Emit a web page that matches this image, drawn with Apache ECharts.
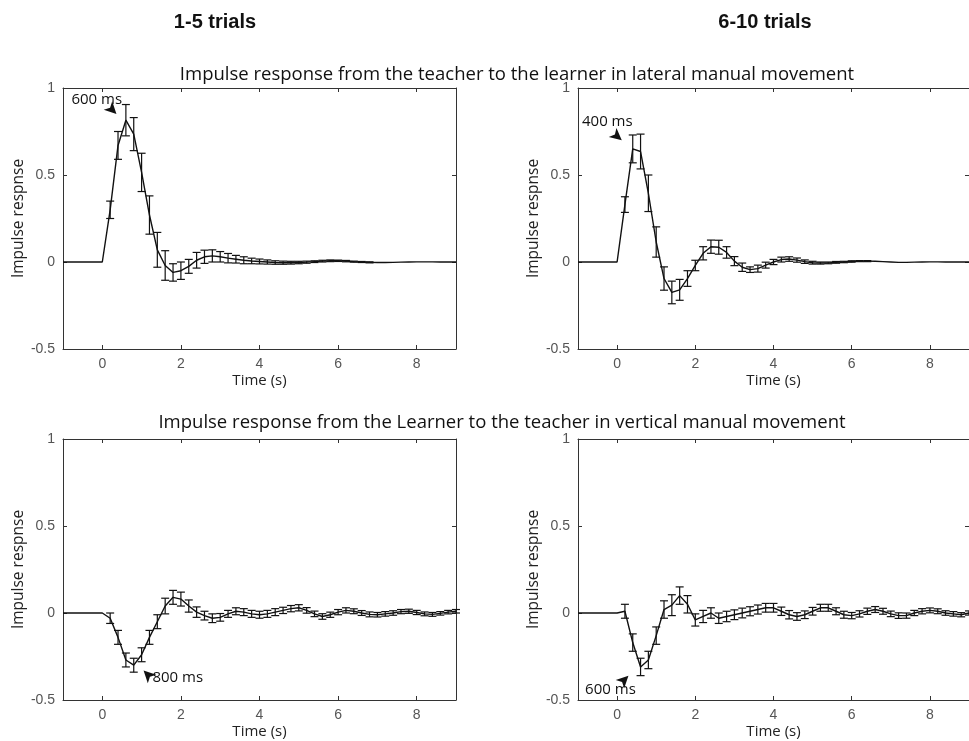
<!DOCTYPE html>
<html>
<head>
<meta charset="utf-8">
<script src="https://cdn.jsdelivr.net/npm/echarts@6/dist/echarts.min.js"></script>
<style>
  html, body { margin: 0; padding: 0; background: #fff; }
  #main { width: 969px; height: 741px; }
</style>
</head>
<body>
<div id="main"></div>
<script>
// time points (s); first point is the left edge of the axis
const times = [-1, 0, 0.2, 0.4, 0.6, 0.8, 1.0, 1.2, 1.4, 1.6, 1.8, 2.0, 2.2, 2.4, 2.6, 2.8, 3.0,
    3.2, 3.4, 3.6, 3.8, 4.0, 4.2, 4.4, 4.6, 4.8, 5.0, 5.2, 5.4, 5.6, 5.8, 6.0, 6.2, 6.4, 6.6,
    6.8, 7.0, 7.2, 7.4, 7.6, 7.8, 8.0, 8.2, 8.4, 8.6, 8.8, 9.0];

// teacher -> learner, lateral, trials 1-5
const meanTL = [0, 0, 0.30, 0.67, 0.815, 0.735, 0.515, 0.27, 0.07, -0.02, -0.06, -0.05, -0.025, 0.01,
    0.03, 0.035, 0.03, 0.022, 0.016, 0.01, 0.006, 0.003, 0.0, -0.003, -0.004, -0.004, -0.003, -0.001,
    0.002, 0.005, 0.007, 0.007, 0.005, 0.002, 0.0, -0.002, -0.003, -0.003, -0.002, -0.001, 0.0,
    0.001, 0.001, 0.001, 0.0, 0.0, 0.0];
const errTL = [0, 0, 0.05, 0.08, 0.09, 0.095, 0.11, 0.11, 0.10, 0.085, 0.05, 0.05, 0.04, 0.045, 0.038,
    0.035, 0.03, 0.027, 0.022, 0.02, 0.016, 0.014, 0.012, 0.01, 0.009, 0.008, 0.007, 0.006, 0.005,
    0.005, 0.005, 0.004, 0.004, 0.003, 0.003, 0.003, 0, 0, 0, 0, 0, 0, 0, 0, 0, 0, 0];

// teacher -> learner, lateral, trials 6-10
const meanTR = [0, 0, 0.33, 0.65, 0.635, 0.395, 0.115, -0.095, -0.175, -0.16, -0.095, -0.02, 0.05,
    0.088, 0.085, 0.055, 0.005, -0.03, -0.044, -0.038, -0.018, 0.0, 0.014, 0.017, 0.011, 0.002,
    -0.004, -0.006, -0.005, -0.002, 0.0, 0.003, 0.005, 0.005, 0.004, 0.002, 0.0, -0.002, -0.002,
    -0.001, 0.0, 0.001, 0.001, 0.0, 0.0, 0.0, 0.0];
const errTR = [0, 0, 0.045, 0.08, 0.10, 0.105, 0.087, 0.067, 0.065, 0.06, 0.045, 0.03, 0.038, 0.038,
    0.04, 0.033, 0.026, 0.024, 0.016, 0.02, 0.017, 0.015, 0.014, 0.013, 0.012, 0.01, 0.008, 0.006,
    0.005, 0.005, 0.004, 0.004, 0.003, 0.003, 0, 0, 0, 0, 0, 0, 0, 0, 0, 0, 0, 0, 0];

// learner -> teacher, vertical, trials 1-5
const meanBL = [0, 0, -0.03, -0.14, -0.27, -0.30, -0.24, -0.14, -0.05, 0.04, 0.09, 0.08, 0.04, 0.005,
    -0.015, -0.03, -0.025, -0.005, 0.01, 0.005, -0.005, -0.01, -0.005, 0.005, 0.015, 0.025, 0.03,
    0.015, -0.005, -0.02, -0.01, 0.005, 0.015, 0.01, 0.0, -0.008, -0.01, -0.005, 0.0, 0.008, 0.01,
    0.003, -0.005, -0.008, -0.002, 0.005, 0.01];
const errBL = [0, 0, 0.03, 0.04, 0.04, 0.04, 0.04, 0.04, 0.04, 0.045, 0.04, 0.04, 0.035, 0.03, 0.025,
    0.025, 0.022, 0.02, 0.02, 0.02, 0.02, 0.02, 0.02, 0.02, 0.018, 0.018, 0.018, 0.016, 0.016,
    0.016, 0.015, 0.015, 0.015, 0.014, 0.014, 0.014, 0.013, 0.013, 0.013, 0.012, 0.012, 0.012,
    0.011, 0.011, 0.01, 0.01, 0.01];

// learner -> teacher, vertical, trials 6-10
const meanBR = [0, 0, 0.01, -0.17, -0.31, -0.27, -0.13, 0.02, 0.045, 0.10, 0.05, -0.04, -0.02, 0.0,
    -0.03, -0.02, -0.01, 0.0, 0.01, 0.02, 0.03, 0.03, 0.01, -0.01, -0.02, -0.01, 0.01, 0.03, 0.03,
    0.01, -0.01, -0.015, -0.005, 0.01, 0.02, 0.01, -0.005, -0.015, -0.015, 0.0, 0.01, 0.015, 0.01,
    0.0, -0.005, -0.01, 0.0];
const errBR = [0, 0, 0.04, 0.05, 0.05, 0.05, 0.05, 0.05, 0.06, 0.05, 0.05, 0.035, 0.035, 0.03, 0.03,
    0.03, 0.028, 0.028, 0.026, 0.026, 0.025, 0.025, 0.024, 0.024, 0.022, 0.022, 0.022, 0.02, 0.02,
    0.02, 0.02, 0.018, 0.018, 0.018, 0.017, 0.017, 0.016, 0.016, 0.015, 0.015, 0.015, 0.014,
    0.014, 0.013, 0.013, 0.012, 0.012];

const xTicks = [0, 2, 4, 6, 8];
const yTicks = [-0.5, 0, 0.5, 1];

// grid boxes and annotations for each panel
const panels = [
    { mean: meanTL, err: errTL, left: 63, top: 88, width: 393,
      note: '600 ms', text: [-0.14, 0.935], arrow: [0.36, 0.85], rot: -135 },
    { mean: meanTR, err: errTR, left: 578, top: 88, width: 395,
      note: '400 ms', text: [-0.25, 0.805], arrow: [0.12, 0.70], rot: -130 },
    { mean: meanBL, err: errBL, left: 63, top: 439, width: 393,
      note: '800 ms', text: [1.92, -0.37], arrow: [1.05, -0.33], rot: 45 },
    { mean: meanBR, err: errBR, left: 578, top: 439, width: 395,
      note: '600 ms', text: [-0.17, -0.44], arrow: [0.29, -0.36], rot: -45 }
];

const axisColor = '#333';
const labelFont = 'Liberation Sans';
const textFont = 'Open Sans';

let grids = [], xAxes = [], yAxes = [], series = [];

panels.forEach(function (p, i) {
    grids.push({ left: p.left, top: p.top, width: p.width, height: 261 });
    const baseX = {
        gridIndex: i, type: 'value', min: -1, max: 9,
        axisLine: { onZero: false, lineStyle: { color: axisColor, width: 1 } },
        axisTick: { inside: true, length: 4, customValues: xTicks, lineStyle: { color: axisColor } },
        splitLine: { show: false }
    };
    xAxes.push(Object.assign({}, baseX, {
        position: 'bottom',
        name: 'Time (s)', nameLocation: 'middle', nameGap: 24,
        nameTextStyle: { fontFamily: textFont, fontSize: 15, color: '#222' },
        axisLabel: { customValues: xTicks, margin: 8, fontFamily: labelFont, fontSize: 14, color: '#555' }
    }));
    xAxes.push(Object.assign({}, baseX, { position: 'top', axisLabel: { show: false } }));
    const baseY = {
        gridIndex: i, type: 'value', min: -0.5, max: 1,
        axisLine: { onZero: false, lineStyle: { color: axisColor, width: 1 } },
        axisTick: { inside: true, length: 4, customValues: yTicks, lineStyle: { color: axisColor } },
        splitLine: { show: false }
    };
    yAxes.push(Object.assign({}, baseY, {
        position: 'left',
        name: 'Impulse respnse', nameLocation: 'middle', nameGap: 34,
        nameTextStyle: { fontFamily: textFont, fontSize: 15.5, color: '#222' },
        axisLabel: { customValues: yTicks, margin: 8, fontFamily: labelFont, fontSize: 14, color: '#555' }
    }));
    yAxes.push(Object.assign({}, baseY, { position: 'right', axisLabel: { show: false } }));

    const lineData = times.map(function (t, k) { return [t, p.mean[k]]; });
    const errData = [];
    times.forEach(function (t, k) {
        if (p.err[k] > 0) errData.push([t, p.mean[k] - p.err[k], p.mean[k] + p.err[k]]);
    });

    series.push({
        type: 'line', xAxisIndex: 2 * i, yAxisIndex: 2 * i,
        data: lineData, showSymbol: false, animation: false,
        lineStyle: { color: '#111', width: 1.4 },
        markPoint: {
            animation: false,
            data: [
                { coord: p.arrow, symbol: 'arrow', symbolSize: [9, 12], symbolRotate: p.rot,
                  itemStyle: { color: '#111' }, label: { show: false } },
                { coord: p.text, symbol: 'rect', symbolSize: 1,
                  itemStyle: { color: 'rgba(0,0,0,0)' },
                  label: { show: true, position: 'inside', formatter: p.note,
                           fontFamily: textFont, fontSize: 15, color: '#111' } }
            ]
        }
    });
    series.push({
        type: 'custom', xAxisIndex: 2 * i, yAxisIndex: 2 * i,
        data: errData, animation: false,
        encode: { x: 0, y: [1, 2] },
        renderItem: function (params, api) {
            const x = api.value(0);
            const lo = api.coord([x, api.value(1)]);
            const hi = api.coord([x, api.value(2)]);
            const cap = 4;
            const style = { stroke: '#111', lineWidth: 1.2 };
            return {
                type: 'group',
                children: [
                    { type: 'line', shape: { x1: lo[0], y1: lo[1], x2: hi[0], y2: hi[1] }, style: style },
                    { type: 'line', shape: { x1: lo[0] - cap, y1: lo[1], x2: lo[0] + cap, y2: lo[1] }, style: style },
                    { type: 'line', shape: { x1: hi[0] - cap, y1: hi[1], x2: hi[0] + cap, y2: hi[1] }, style: style }
                ]
            };
        }
    });
});

const chart = echarts.init(document.getElementById('main'));
chart.setOption({
    backgroundColor: '#fff',
    animation: false,
    grid: grids,
    xAxis: xAxes,
    yAxis: yAxes,
    series: series,
    graphic: [
        { type: 'text', x: 215, y: 22, style: { text: '1-5 trials', fontFamily: labelFont, fontWeight: 'bold',
            fontSize: 20, fill: '#111', textAlign: 'center', textVerticalAlign: 'middle' } },
        { type: 'text', x: 765, y: 22, style: { text: '6-10 trials', fontFamily: labelFont, fontWeight: 'bold',
            fontSize: 20, fill: '#111', textAlign: 'center', textVerticalAlign: 'middle' } },
        { type: 'text', x: 517, y: 75, style: { text: 'Impulse response from the teacher to the learner in lateral manual movement',
            fontFamily: textFont, fontSize: 18.5, fill: '#111', textAlign: 'center', textVerticalAlign: 'middle' } },
        { type: 'text', x: 502, y: 423, style: { text: 'Impulse response from the Learner to the teacher in vertical manual movement',
            fontFamily: textFont, fontSize: 18.5, fill: '#111', textAlign: 'center', textVerticalAlign: 'middle' } }
    ]
});
</script>
</body>
</html>
